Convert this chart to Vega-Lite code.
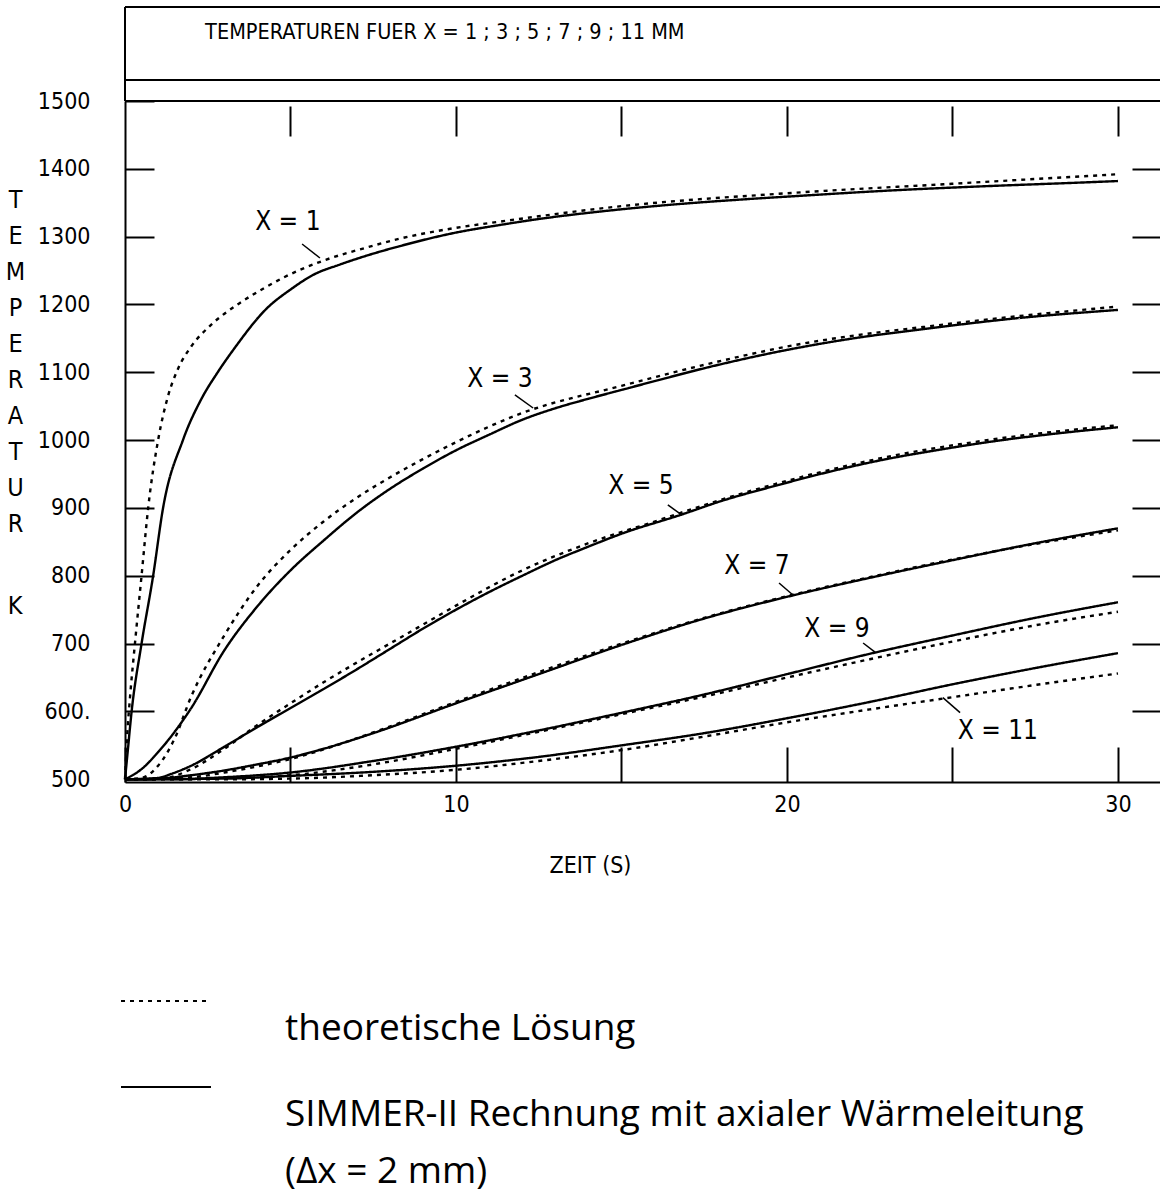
{
  "$schema": "https://vega.github.io/schema/vega-lite/v6.json",
  "width": 1035,
  "height": 681,
  "autosize": {"type": "none"},
  "padding": {"left": 125, "top": 101, "right": 0, "bottom": 418},
  "background": "white",
  "config": {
    "view": {"stroke": null},
    "style": {"guide-label": {"lineHeight": 57}},
    "axis": {
      "tickColor": "black", "tickWidth": 2, "labelColor": "black", "titleColor": "black",
      "domainColor": "black", "domainWidth": 2,
      "labelFont": "DejaVu Sans Condensed, sans-serif",
      "titleFont": "DejaVu Sans Condensed, sans-serif",
      "labelFontSize": 23, "titleFontSize": 23, "titleFontWeight": "normal",
      "grid": false, "domain": false
    }
  },
  "datasets": {
    "curves": [
      {"zeit":0,"temp":500,"position":"X = 1","kurve":"simmer"},{"zeit":0.08,"temp":540,"position":"X = 1","kurve":"simmer"},{"zeit":0.2,"temp":600,"position":"X = 1","kurve":"simmer"},{"zeit":0.5,"temp":700,"position":"X = 1","kurve":"simmer"},{"zeit":0.85,"temp":800,"position":"X = 1","kurve":"simmer"},{"zeit":1.15,"temp":900,"position":"X = 1","kurve":"simmer"},{"zeit":1.75,"temp":1000,"position":"X = 1","kurve":"simmer"},{"zeit":2.3,"temp":1060,"position":"X = 1","kurve":"simmer"},{"zeit":2.8,"temp":1100,"position":"X = 1","kurve":"simmer"},{"zeit":3.3,"temp":1135,"position":"X = 1","kurve":"simmer"},{"zeit":4.3,"temp":1195,"position":"X = 1","kurve":"simmer"},{"zeit":5,"temp":1222,"position":"X = 1","kurve":"simmer"},{"zeit":5.7,"temp":1244,"position":"X = 1","kurve":"simmer"},{"zeit":6.5,"temp":1259,"position":"X = 1","kurve":"simmer"},{"zeit":7.3,"temp":1272,"position":"X = 1","kurve":"simmer"},{"zeit":8.3,"temp":1286,"position":"X = 1","kurve":"simmer"},{"zeit":10,"temp":1306,"position":"X = 1","kurve":"simmer"},{"zeit":11.3,"temp":1317,"position":"X = 1","kurve":"simmer"},{"zeit":12.5,"temp":1326,"position":"X = 1","kurve":"simmer"},{"zeit":14.35,"temp":1337,"position":"X = 1","kurve":"simmer"},{"zeit":16,"temp":1345,"position":"X = 1","kurve":"simmer"},{"zeit":18.7,"temp":1355,"position":"X = 1","kurve":"simmer"},{"zeit":20,"temp":1359,"position":"X = 1","kurve":"simmer"},{"zeit":23.5,"temp":1369,"position":"X = 1","kurve":"simmer"},{"zeit":25.8,"temp":1374,"position":"X = 1","kurve":"simmer"},{"zeit":29,"temp":1380,"position":"X = 1","kurve":"simmer"},{"zeit":30,"temp":1382,"position":"X = 1","kurve":"simmer"},
      {"zeit":0,"temp":500,"position":"X = 1","kurve":"theorie"},{"zeit":0.06,"temp":560,"position":"X = 1","kurve":"theorie"},{"zeit":0.15,"temp":620,"position":"X = 1","kurve":"theorie"},{"zeit":0.3,"temp":700,"position":"X = 1","kurve":"theorie"},{"zeit":0.5,"temp":800,"position":"X = 1","kurve":"theorie"},{"zeit":0.7,"temp":900,"position":"X = 1","kurve":"theorie"},{"zeit":1,"temp":1000,"position":"X = 1","kurve":"theorie"},{"zeit":1.3,"temp":1065,"position":"X = 1","kurve":"theorie"},{"zeit":1.6,"temp":1105,"position":"X = 1","kurve":"theorie"},{"zeit":2,"temp":1138,"position":"X = 1","kurve":"theorie"},{"zeit":2.6,"temp":1170,"position":"X = 1","kurve":"theorie"},{"zeit":3.4,"temp":1200,"position":"X = 1","kurve":"theorie"},{"zeit":4.2,"temp":1224,"position":"X = 1","kurve":"theorie"},{"zeit":4.8,"temp":1240,"position":"X = 1","kurve":"theorie"},{"zeit":5.9,"temp":1263,"position":"X = 1","kurve":"theorie"},{"zeit":7.3,"temp":1284,"position":"X = 1","kurve":"theorie"},{"zeit":8.3,"temp":1297,"position":"X = 1","kurve":"theorie"},{"zeit":10,"temp":1313,"position":"X = 1","kurve":"theorie"},{"zeit":11.3,"temp":1322,"position":"X = 1","kurve":"theorie"},{"zeit":15,"temp":1345,"position":"X = 1","kurve":"theorie"},{"zeit":20,"temp":1364,"position":"X = 1","kurve":"theorie"},{"zeit":25,"temp":1378,"position":"X = 1","kurve":"theorie"},{"zeit":30,"temp":1392,"position":"X = 1","kurve":"theorie"},
      {"zeit":0,"temp":500,"position":"X = 3","kurve":"simmer"},{"zeit":0.5,"temp":515,"position":"X = 3","kurve":"simmer"},{"zeit":1,"temp":540,"position":"X = 3","kurve":"simmer"},{"zeit":1.5,"temp":570,"position":"X = 3","kurve":"simmer"},{"zeit":2,"temp":605,"position":"X = 3","kurve":"simmer"},{"zeit":3,"temp":690,"position":"X = 3","kurve":"simmer"},{"zeit":4,"temp":755,"position":"X = 3","kurve":"simmer"},{"zeit":5,"temp":808,"position":"X = 3","kurve":"simmer"},{"zeit":6,"temp":852,"position":"X = 3","kurve":"simmer"},{"zeit":7,"temp":893,"position":"X = 3","kurve":"simmer"},{"zeit":8,"temp":928,"position":"X = 3","kurve":"simmer"},{"zeit":9,"temp":958,"position":"X = 3","kurve":"simmer"},{"zeit":10,"temp":985,"position":"X = 3","kurve":"simmer"},{"zeit":11,"temp":1008,"position":"X = 3","kurve":"simmer"},{"zeit":12,"temp":1030,"position":"X = 3","kurve":"simmer"},{"zeit":13,"temp":1047,"position":"X = 3","kurve":"simmer"},{"zeit":14,"temp":1061,"position":"X = 3","kurve":"simmer"},{"zeit":15,"temp":1074,"position":"X = 3","kurve":"simmer"},{"zeit":16,"temp":1087,"position":"X = 3","kurve":"simmer"},{"zeit":17.5,"temp":1106,"position":"X = 3","kurve":"simmer"},{"zeit":20,"temp":1133,"position":"X = 3","kurve":"simmer"},{"zeit":22,"temp":1150,"position":"X = 3","kurve":"simmer"},{"zeit":24,"temp":1163,"position":"X = 3","kurve":"simmer"},{"zeit":27,"temp":1180,"position":"X = 3","kurve":"simmer"},{"zeit":30,"temp":1192,"position":"X = 3","kurve":"simmer"},
      {"zeit":0,"temp":500,"position":"X = 3","kurve":"theorie"},{"zeit":0.5,"temp":502,"position":"X = 3","kurve":"theorie"},{"zeit":1,"temp":520,"position":"X = 3","kurve":"theorie"},{"zeit":1.5,"temp":560,"position":"X = 3","kurve":"theorie"},{"zeit":2,"temp":622,"position":"X = 3","kurve":"theorie"},{"zeit":3,"temp":712,"position":"X = 3","kurve":"theorie"},{"zeit":4,"temp":785,"position":"X = 3","kurve":"theorie"},{"zeit":5,"temp":838,"position":"X = 3","kurve":"theorie"},{"zeit":6,"temp":880,"position":"X = 3","kurve":"theorie"},{"zeit":7,"temp":915,"position":"X = 3","kurve":"theorie"},{"zeit":8,"temp":945,"position":"X = 3","kurve":"theorie"},{"zeit":9,"temp":972,"position":"X = 3","kurve":"theorie"},{"zeit":10,"temp":997,"position":"X = 3","kurve":"theorie"},{"zeit":12,"temp":1040,"position":"X = 3","kurve":"theorie"},{"zeit":15,"temp":1080,"position":"X = 3","kurve":"theorie"},{"zeit":17.5,"temp":1111,"position":"X = 3","kurve":"theorie"},{"zeit":20,"temp":1138,"position":"X = 3","kurve":"theorie"},{"zeit":25,"temp":1172,"position":"X = 3","kurve":"theorie"},{"zeit":30,"temp":1197,"position":"X = 3","kurve":"theorie"},
      {"zeit":0,"temp":500,"position":"X = 5","kurve":"simmer"},{"zeit":1,"temp":502,"position":"X = 5","kurve":"simmer"},{"zeit":1.4,"temp":508,"position":"X = 5","kurve":"simmer"},{"zeit":2,"temp":520,"position":"X = 5","kurve":"simmer"},{"zeit":2.9,"temp":545,"position":"X = 5","kurve":"simmer"},{"zeit":4,"temp":577,"position":"X = 5","kurve":"simmer"},{"zeit":5,"temp":605,"position":"X = 5","kurve":"simmer"},{"zeit":6,"temp":633,"position":"X = 5","kurve":"simmer"},{"zeit":7,"temp":662,"position":"X = 5","kurve":"simmer"},{"zeit":8,"temp":692,"position":"X = 5","kurve":"simmer"},{"zeit":9,"temp":722,"position":"X = 5","kurve":"simmer"},{"zeit":10,"temp":750,"position":"X = 5","kurve":"simmer"},{"zeit":11,"temp":776,"position":"X = 5","kurve":"simmer"},{"zeit":12,"temp":800,"position":"X = 5","kurve":"simmer"},{"zeit":13,"temp":823,"position":"X = 5","kurve":"simmer"},{"zeit":14,"temp":843,"position":"X = 5","kurve":"simmer"},{"zeit":15,"temp":862,"position":"X = 5","kurve":"simmer"},{"zeit":16.8,"temp":890,"position":"X = 5","kurve":"simmer"},{"zeit":18,"temp":910,"position":"X = 5","kurve":"simmer"},{"zeit":19.75,"temp":934,"position":"X = 5","kurve":"simmer"},{"zeit":21,"temp":950,"position":"X = 5","kurve":"simmer"},{"zeit":23,"temp":972,"position":"X = 5","kurve":"simmer"},{"zeit":24.5,"temp":985,"position":"X = 5","kurve":"simmer"},{"zeit":26.2,"temp":998,"position":"X = 5","kurve":"simmer"},{"zeit":28,"temp":1009,"position":"X = 5","kurve":"simmer"},{"zeit":30,"temp":1019,"position":"X = 5","kurve":"simmer"},
      {"zeit":0,"temp":500,"position":"X = 5","kurve":"theorie"},{"zeit":1,"temp":500,"position":"X = 5","kurve":"theorie"},{"zeit":2,"temp":515,"position":"X = 5","kurve":"theorie"},{"zeit":3,"temp":545,"position":"X = 5","kurve":"theorie"},{"zeit":4,"temp":580,"position":"X = 5","kurve":"theorie"},{"zeit":5,"temp":612,"position":"X = 5","kurve":"theorie"},{"zeit":6,"temp":643,"position":"X = 5","kurve":"theorie"},{"zeit":7,"temp":672,"position":"X = 5","kurve":"theorie"},{"zeit":8,"temp":700,"position":"X = 5","kurve":"theorie"},{"zeit":9,"temp":728,"position":"X = 5","kurve":"theorie"},{"zeit":10,"temp":756,"position":"X = 5","kurve":"theorie"},{"zeit":12,"temp":808,"position":"X = 5","kurve":"theorie"},{"zeit":14,"temp":848,"position":"X = 5","kurve":"theorie"},{"zeit":16,"temp":880,"position":"X = 5","kurve":"theorie"},{"zeit":18,"temp":912,"position":"X = 5","kurve":"theorie"},{"zeit":20,"temp":940,"position":"X = 5","kurve":"theorie"},{"zeit":23,"temp":975,"position":"X = 5","kurve":"theorie"},{"zeit":26.2,"temp":1001,"position":"X = 5","kurve":"theorie"},{"zeit":30,"temp":1022,"position":"X = 5","kurve":"theorie"},
      {"zeit":0,"temp":500,"position":"X = 7","kurve":"simmer"},{"zeit":1,"temp":501,"position":"X = 7","kurve":"simmer"},{"zeit":2,"temp":506,"position":"X = 7","kurve":"simmer"},{"zeit":3,"temp":513,"position":"X = 7","kurve":"simmer"},{"zeit":4,"temp":522,"position":"X = 7","kurve":"simmer"},{"zeit":5,"temp":532,"position":"X = 7","kurve":"simmer"},{"zeit":6,"temp":545,"position":"X = 7","kurve":"simmer"},{"zeit":7.5,"temp":568,"position":"X = 7","kurve":"simmer"},{"zeit":10,"temp":612,"position":"X = 7","kurve":"simmer"},{"zeit":12.5,"temp":655,"position":"X = 7","kurve":"simmer"},{"zeit":15,"temp":698,"position":"X = 7","kurve":"simmer"},{"zeit":17.5,"temp":737,"position":"X = 7","kurve":"simmer"},{"zeit":20,"temp":769,"position":"X = 7","kurve":"simmer"},{"zeit":22.5,"temp":797,"position":"X = 7","kurve":"simmer"},{"zeit":25,"temp":823,"position":"X = 7","kurve":"simmer"},{"zeit":27.5,"temp":848,"position":"X = 7","kurve":"simmer"},{"zeit":30,"temp":870,"position":"X = 7","kurve":"simmer"},
      {"zeit":0,"temp":500,"position":"X = 7","kurve":"theorie"},{"zeit":2,"temp":503,"position":"X = 7","kurve":"theorie"},{"zeit":3,"temp":510,"position":"X = 7","kurve":"theorie"},{"zeit":4,"temp":519,"position":"X = 7","kurve":"theorie"},{"zeit":5,"temp":530,"position":"X = 7","kurve":"theorie"},{"zeit":6,"temp":544,"position":"X = 7","kurve":"theorie"},{"zeit":7.5,"temp":569,"position":"X = 7","kurve":"theorie"},{"zeit":10,"temp":614,"position":"X = 7","kurve":"theorie"},{"zeit":12.5,"temp":658,"position":"X = 7","kurve":"theorie"},{"zeit":15,"temp":700,"position":"X = 7","kurve":"theorie"},{"zeit":17.5,"temp":738,"position":"X = 7","kurve":"theorie"},{"zeit":20,"temp":770,"position":"X = 7","kurve":"theorie"},{"zeit":22.5,"temp":798,"position":"X = 7","kurve":"theorie"},{"zeit":25,"temp":824,"position":"X = 7","kurve":"theorie"},{"zeit":27.5,"temp":847,"position":"X = 7","kurve":"theorie"},{"zeit":30,"temp":867,"position":"X = 7","kurve":"theorie"},
      {"zeit":0,"temp":500,"position":"X = 9","kurve":"simmer"},{"zeit":1.5,"temp":500,"position":"X = 9","kurve":"simmer"},{"zeit":3,"temp":503,"position":"X = 9","kurve":"simmer"},{"zeit":5,"temp":510,"position":"X = 9","kurve":"simmer"},{"zeit":7.5,"temp":527,"position":"X = 9","kurve":"simmer"},{"zeit":10,"temp":548,"position":"X = 9","kurve":"simmer"},{"zeit":12.5,"temp":572,"position":"X = 9","kurve":"simmer"},{"zeit":15,"temp":598,"position":"X = 9","kurve":"simmer"},{"zeit":17.5,"temp":625,"position":"X = 9","kurve":"simmer"},{"zeit":20,"temp":655,"position":"X = 9","kurve":"simmer"},{"zeit":22.5,"temp":685,"position":"X = 9","kurve":"simmer"},{"zeit":25,"temp":712,"position":"X = 9","kurve":"simmer"},{"zeit":27.5,"temp":738,"position":"X = 9","kurve":"simmer"},{"zeit":30,"temp":761,"position":"X = 9","kurve":"simmer"},
      {"zeit":0,"temp":500,"position":"X = 9","kurve":"theorie"},{"zeit":3,"temp":501,"position":"X = 9","kurve":"theorie"},{"zeit":5,"temp":506,"position":"X = 9","kurve":"theorie"},{"zeit":7.5,"temp":522,"position":"X = 9","kurve":"theorie"},{"zeit":10,"temp":545,"position":"X = 9","kurve":"theorie"},{"zeit":12.5,"temp":570,"position":"X = 9","kurve":"theorie"},{"zeit":15,"temp":596,"position":"X = 9","kurve":"theorie"},{"zeit":17.5,"temp":622,"position":"X = 9","kurve":"theorie"},{"zeit":20,"temp":650,"position":"X = 9","kurve":"theorie"},{"zeit":22.5,"temp":677,"position":"X = 9","kurve":"theorie"},{"zeit":25,"temp":703,"position":"X = 9","kurve":"theorie"},{"zeit":27.5,"temp":727,"position":"X = 9","kurve":"theorie"},{"zeit":30,"temp":747,"position":"X = 9","kurve":"theorie"},
      {"zeit":0,"temp":500,"position":"X = 11","kurve":"simmer"},{"zeit":3,"temp":501,"position":"X = 11","kurve":"simmer"},{"zeit":5,"temp":505,"position":"X = 11","kurve":"simmer"},{"zeit":7.5,"temp":511,"position":"X = 11","kurve":"simmer"},{"zeit":10,"temp":520,"position":"X = 11","kurve":"simmer"},{"zeit":12.5,"temp":533,"position":"X = 11","kurve":"simmer"},{"zeit":15,"temp":550,"position":"X = 11","kurve":"simmer"},{"zeit":17.5,"temp":568,"position":"X = 11","kurve":"simmer"},{"zeit":20,"temp":590,"position":"X = 11","kurve":"simmer"},{"zeit":22.5,"temp":614,"position":"X = 11","kurve":"simmer"},{"zeit":25,"temp":640,"position":"X = 11","kurve":"simmer"},{"zeit":27.5,"temp":664,"position":"X = 11","kurve":"simmer"},{"zeit":30,"temp":686,"position":"X = 11","kurve":"simmer"},
      {"zeit":0,"temp":500,"position":"X = 11","kurve":"theorie"},{"zeit":3,"temp":500,"position":"X = 11","kurve":"theorie"},{"zeit":5,"temp":501,"position":"X = 11","kurve":"theorie"},{"zeit":7.5,"temp":506,"position":"X = 11","kurve":"theorie"},{"zeit":10,"temp":514,"position":"X = 11","kurve":"theorie"},{"zeit":12.5,"temp":527,"position":"X = 11","kurve":"theorie"},{"zeit":15,"temp":543,"position":"X = 11","kurve":"theorie"},{"zeit":17.5,"temp":563,"position":"X = 11","kurve":"theorie"},{"zeit":20,"temp":584,"position":"X = 11","kurve":"theorie"},{"zeit":22.5,"temp":603,"position":"X = 11","kurve":"theorie"},{"zeit":25,"temp":621,"position":"X = 11","kurve":"theorie"},{"zeit":27.5,"temp":639,"position":"X = 11","kurve":"theorie"},{"zeit":30,"temp":656,"position":"X = 11","kurve":"theorie"}
    ],
    "labels": [
      {"label":"X = 1","zeit":4.92,"temp":1321.6},
      {"label":"X = 3","zeit":11.33,"temp":1090.1},
      {"label":"X = 5","zeit":15.59,"temp":932.4},
      {"label":"X = 7","zeit":19.09,"temp":814.5},
      {"label":"X = 9","zeit":21.51,"temp":721.6},
      {"label":"X = 11","zeit":26.37,"temp":571.2}
    ],
    "leaders": [
      {"zeit":5.35,"temp":1289.2,"zeit2":5.89,"temp2":1268.5},
      {"zeit":11.78,"temp":1066.6,"zeit2":12.33,"temp2":1047.4},
      {"zeit":16.4,"temp":904.4,"zeit2":16.83,"temp2":889.6},
      {"zeit":19.76,"temp":789.4,"zeit2":20.18,"temp2":771.7},
      {"zeit":22.3,"temp":700.9,"zeit2":22.66,"temp2":687.6},
      {"zeit":24.71,"temp":620.3,"zeit2":25.23,"temp2":598.2}
    ]
  },
  "layer": [
    {
      "data": {"name": "curves"},
      "mark": {"type": "line", "color": "black", "strokeWidth": 2.4, "interpolate": "monotone"},
      "encoding": {
        "x": {"field": "zeit", "type": "quantitative", "scale": {"domain": [0, 31.27], "nice": false, "zero": false},
          "axis": {"orient": "bottom", "values": [0,5,10,15,20,25,30], "format": "d", "labelExpr": "datum.value % 10 == 0 ? datum.label : ''",
            "domain": true, "tickSize": -35, "labelPadding": 46, "labelFlush": false, "labelBaseline": "top",
            "title": "ZEIT (S)", "titleX": 465, "titleY": 90, "titleAlign": "center", "titleBaseline": "alphabetic", "titleAnchor": null}},
        "y": {"field": "temp", "type": "quantitative", "scale": {"domain": [496, 1500], "nice": false, "zero": false},
          "axis": {"orient": "left", "values": [500,600,700,800,900,1000,1100,1200,1300,1400,1500], "format": "d",
            "labelExpr": "datum.value == 600 ? '600.' : datum.label",
            "domain": true, "tickSize": -29, "labelPadding": 64, "labelFlush": false,
            "title": ["T","E","M","P","E","R","A","T","U","R"], "titleAngle": 0, "titleX": -110, "titleY": 106,
            "titleAlign": "center", "titleBaseline": "alphabetic", "titleLineHeight": 36, "titleFontSize": 25}},
        "strokeDash": {"field": "kurve", "type": "nominal",
          "scale": {"domain": ["theorie", "simmer"], "range": [[4, 5], [1, 0]]},
          "legend": {"orient": "none", "legendX": -5, "legendY": 890, "title": null,
            "symbolType": "stroke", "symbolSize": 8100, "symbolStrokeWidth": 2, "symbolStrokeColor": "black",
            "clipHeight": 20, "rowPadding": 30, "labelOffset": 73,
            "labelFont": "Open Sans", "labelFontSize": 37, "labelLimit": 0, "labelColor": "black",
            "labelBaseline": "line-top",
            "labelExpr": "datum.label == 'simmer' ? ['SIMMER-II Rechnung mit axialer Wärmeleitung', '(Δx = 2 mm)'] : 'theoretische Lösung'"}},
        "detail": {"field": "position", "type": "nominal"}
      }
    },
    {
      "data": {"name": "labels"},
      "mark": {"type": "text", "font": "DejaVu Sans Condensed, sans-serif", "fontSize": 26, "align": "center", "baseline": "middle", "color": "black"},
      "encoding": {
        "x": {"field": "zeit", "type": "quantitative", "scale": {"domain": [0, 31.27], "nice": false, "zero": false},
          "axis": {"orient": "top", "values": [5,10,15,20,25,30], "tickSize": -30, "offset": -5, "labels": false, "title": null}},
        "y": {"field": "temp", "type": "quantitative", "scale": {"domain": [496, 1500], "nice": false, "zero": false},
          "axis": {"orient": "right", "values": [600,700,800,900,1000,1100,1200,1300,1400], "tickSize": -28, "labels": false, "title": null}},
        "text": {"field": "label"}
      }
    },
    {
      "data": {"name": "leaders"},
      "mark": {"type": "rule", "color": "black", "strokeWidth": 1.5},
      "encoding": {
        "x": {"field": "zeit", "type": "quantitative", "scale": {"domain": [0, 31.27], "nice": false, "zero": false}, "axis": null},
        "y": {"field": "temp", "type": "quantitative", "scale": {"domain": [496, 1500], "nice": false, "zero": false}, "axis": null},
        "x2": {"field": "zeit2"},
        "y2": {"field": "temp2"}
      }
    },
    {
      "data": {"values": [{}]},
      "mark": {"type": "rule", "color": "black", "strokeWidth": 2, "clip": false},
      "encoding": {
        "x": {"datum": 0, "type": "quantitative", "scale": {"domain": [0, 31.27], "nice": false, "zero": false}, "axis": null},
        "x2": {"datum": 31.27},
        "y": {"datum": 1638.6, "type": "quantitative", "scale": {"domain": [496, 1500], "nice": false, "zero": false}, "axis": null}
      }
    },
    {
      "data": {"values": [{}]},
      "mark": {"type": "rule", "color": "black", "strokeWidth": 2, "clip": false},
      "encoding": {
        "x": {"datum": 0, "type": "quantitative", "scale": {"domain": [0, 31.27], "nice": false, "zero": false}, "axis": null},
        "x2": {"datum": 31.27},
        "y": {"datum": 1531, "type": "quantitative", "scale": {"domain": [496, 1500], "nice": false, "zero": false}, "axis": null}
      }
    },
    {
      "data": {"values": [{}]},
      "mark": {"type": "rule", "color": "black", "strokeWidth": 2, "clip": false},
      "encoding": {
        "x": {"datum": 0, "type": "quantitative", "scale": {"domain": [0, 31.27], "nice": false, "zero": false}, "axis": null},
        "x2": {"datum": 31.27},
        "y": {"datum": 1500, "type": "quantitative", "scale": {"domain": [496, 1500], "nice": false, "zero": false}, "axis": null}
      }
    },
    {
      "data": {"values": [{}]},
      "mark": {"type": "rule", "color": "black", "strokeWidth": 2, "clip": false},
      "encoding": {
        "x": {"datum": 0, "type": "quantitative", "scale": {"domain": [0, 31.27], "nice": false, "zero": false}, "axis": null},
        "y": {"datum": 1500, "type": "quantitative", "scale": {"domain": [496, 1500], "nice": false, "zero": false}, "axis": null},
        "y2": {"datum": 1638.6}
      }
    },
    {
      "data": {"values": [{}]},
      "mark": {"type": "text", "text": "TEMPERATUREN FUER X = 1 ; 3 ; 5 ; 7 ; 9 ; 11 MM", "align": "left", "baseline": "middle",
        "font": "DejaVu Sans Condensed, sans-serif", "fontSize": 21.5, "color": "black"},
      "encoding": {
        "x": {"datum": 2.42, "type": "quantitative", "scale": {"domain": [0, 31.27], "nice": false, "zero": false}, "axis": null},
        "y": {"datum": 1600.3, "type": "quantitative", "scale": {"domain": [496, 1500], "nice": false, "zero": false}, "axis": null}
      }
    },
    {
      "data": {"values": [{}]},
      "mark": {"type": "text", "text": "K", "align": "center", "baseline": "alphabetic", "clip": false,
        "font": "DejaVu Sans Condensed, sans-serif", "fontSize": 25, "color": "black"},
      "encoding": {
        "x": {"datum": -3.32, "type": "quantitative", "scale": {"domain": [0, 31.27], "nice": false, "zero": false}, "axis": null},
        "y": {"datum": 743.6, "type": "quantitative", "scale": {"domain": [496, 1500], "nice": false, "zero": false}, "axis": null}
      }
    }
  ],
  "resolve": {"axis": {"x": "independent", "y": "independent"}}
}
